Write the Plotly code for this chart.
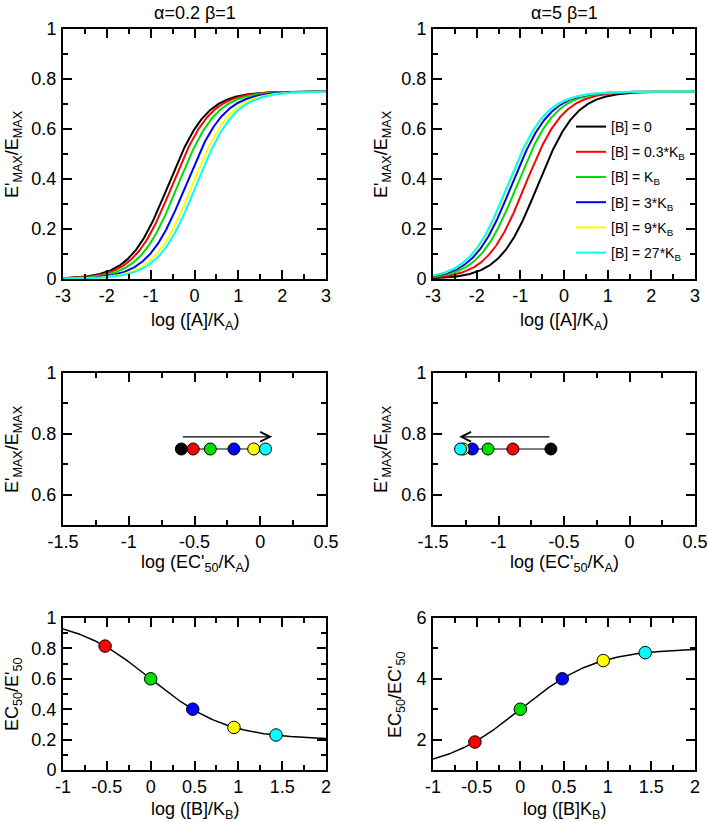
import numpy as np
import plotly.graph_objects as go

# ---------------- data ----------------
b_labels = ["[B] = 0", "[B] = 0.3*K<sub>B</sub>", "[B] = K<sub>B</sub>",
            "[B] = 3*K<sub>B</sub>", "[B] = 9*K<sub>B</sub>", "[B] = 27*K<sub>B</sub>"]
colors = ["#000000", "#ff0000", "#00dd00", "#0000ff", "#ffff00", "#00ffff"]
b_over_kb = [0, 0.3, 1, 3, 9, 27]
emax_prime = 0.75
# log(EC'50/KA) for each [B]
log_ec50_a02 = [-0.60, -0.51, -0.38, -0.20, -0.05, 0.04]
log_ec50_a5 = [-0.60, -0.89, -1.08, -1.20, -1.27, -1.29]
# EC50/EC'50 ratios at [B] = 0.3, 1, 3, 9, 27 KB
log_b_pts = [-0.52, 0.0, 0.48, 0.95, 1.43]
ratio_a02 = [0.815, 0.60, 0.40, 0.28, 0.23]
ratio_a5 = [1.92, 3.0, 4.0, 4.6, 4.86]
alphas = [0.2, 5.0]

# tick labels
ticks_top_x = [-3, -2, -1, 0, 1, 2, 3]
ticks_top_x_txt = ["-3", "-2", "-1", "0", "1", "2", "3"]
ticks_01 = [0, 0.2, 0.4, 0.6, 0.8, 1.0]
ticks_01_txt = ["0", "0.2", "0.4", "0.6", "0.8", "1"]
ticks_mid_x = [-1.5, -1, -0.5, 0, 0.5]
ticks_mid_x_txt = ["-1.5", "-1", "-0.5", "0", "0.5"]
ticks_mid_y = [0.6, 0.8, 1.0]
ticks_mid_y_txt = ["0.6", "0.8", "1"]
ticks_bot_x = [-1, -0.5, 0, 0.5, 1, 1.5, 2]
ticks_bot_x_txt = ["-1", "-0.5", "0", "0.5", "1", "1.5", "2"]
ticks_bot_y2 = [2, 4, 6]
ticks_bot_y2_txt = ["2", "4", "6"]

FONT = "Liberation Sans, Arial, Helvetica, sans-serif"
W, H = 708, 822

def px_x(v):
    return v / W

def px_y(v):
    return 1 - v / H

xl = [px_x(63), px_x(326)]
xr = [px_x(433), px_x(695)]
yt = [px_y(279), px_y(29)]
ym = [px_y(525), px_y(373)]
yb = [px_y(770), px_y(618)]

fig = go.Figure()

# top row: concentration-response curves
logA = np.linspace(-3, 3, 400)
A = 10 ** logA
for col, (ecs, xa, ya) in enumerate([(log_ec50_a02, "x", "y"), (log_ec50_a5, "x2", "y2")]):
    for i, le in enumerate(ecs):
        ec = 10 ** le
        fig.add_trace(go.Scatter(
            x=logA, y=emax_prime * A / (A + ec), mode="lines",
            line=dict(color=colors[i], width=2), name=b_labels[i],
            legendgroup=f"g{i}", showlegend=(col == 1), xaxis=xa, yaxis=ya))

# middle row: EC'50 shift
for ecs, xa, ya in [(log_ec50_a02, "x3", "y3"), (log_ec50_a5, "x4", "y4")]:
    fig.add_trace(go.Scatter(
        x=ecs, y=[emax_prime] * len(ecs), mode="lines+markers",
        line=dict(color="black", width=1.2),
        marker=dict(size=12, color=colors, line=dict(color="black", width=1)),
        showlegend=False, xaxis=xa, yaxis=ya))

# bottom row: EC50 ratio vs [B]
logB = np.linspace(-1, 2, 300)
Bc = 10 ** logB
for alpha, pts, xa, ya in [(alphas[0], ratio_a02, "x5", "y5"), (alphas[1], ratio_a5, "x6", "y6")]:
    fig.add_trace(go.Scatter(
        x=logB, y=(1 + alpha * Bc) / (1 + Bc), mode="lines",
        line=dict(color="black", width=1.5), showlegend=False, xaxis=xa, yaxis=ya))
    fig.add_trace(go.Scatter(
        x=log_b_pts, y=pts, mode="markers",
        marker=dict(size=12.5, color=colors[1:], line=dict(color="black", width=1)),
        showlegend=False, xaxis=xa, yaxis=ya))

base = dict(
    showline=True, linewidth=2, linecolor="black", mirror="ticks",
    ticks="inside", ticklen=9, tickwidth=1.5, tickcolor="black",
    showgrid=False, zeroline=False, automargin=False,
    tickfont=dict(family=FONT, size=18, color="black"),
)
xcommon = dict(base, ticklabelstandoff=-1)
ycommon = dict(base, ticklabelstandoff=1)

def minor(d):
    return dict(dtick=d, ticks="inside", ticklen=5, tickwidth=1.5, tickcolor="black", showgrid=False)

def minor_vals(v):
    return dict(tickvals=v, ticks="inside", ticklen=5, tickwidth=1.5, tickcolor="black", showgrid=False)

fig.update_layout(
    xaxis=dict(domain=xl, anchor="y", range=[-3, 3], tickvals=ticks_top_x, ticktext=ticks_top_x_txt,
               minor=minor(0.5), **xcommon),
    yaxis=dict(domain=yt, anchor="x", range=[0, 1], tickvals=ticks_01, ticktext=ticks_01_txt,
               minor=minor(0.1), **ycommon),
    xaxis2=dict(domain=xr, anchor="y2", range=[-3, 3], tickvals=ticks_top_x, ticktext=ticks_top_x_txt,
                minor=minor(0.5), **xcommon),
    yaxis2=dict(domain=yt, anchor="x2", range=[0, 1], tickvals=ticks_01, ticktext=ticks_01_txt,
                minor=minor(0.1), **ycommon),
    xaxis3=dict(domain=xl, anchor="y3", range=[-1.5, 0.5], tickvals=ticks_mid_x, ticktext=ticks_mid_x_txt,
                minor=minor(0.25), **xcommon),
    yaxis3=dict(domain=ym, anchor="x3", range=[0.5, 1], tickvals=ticks_mid_y, ticktext=ticks_mid_y_txt,
                minor=minor_vals([0.7, 0.9]), **ycommon),
    xaxis4=dict(domain=xr, anchor="y4", range=[-1.5, 0.5], tickvals=ticks_mid_x, ticktext=ticks_mid_x_txt,
                minor=minor(0.25), **xcommon),
    yaxis4=dict(domain=ym, anchor="x4", range=[0.5, 1], tickvals=ticks_mid_y, ticktext=ticks_mid_y_txt,
                minor=minor_vals([0.7, 0.9]), **ycommon),
    xaxis5=dict(domain=xl, anchor="y5", range=[-1, 2], tickvals=ticks_bot_x, ticktext=ticks_bot_x_txt,
                minor=minor(0.25), **xcommon),
    yaxis5=dict(domain=yb, anchor="x5", range=[0, 1], tickvals=ticks_01, ticktext=ticks_01_txt,
                minor=minor(0.1), **ycommon),
    xaxis6=dict(domain=xr, anchor="y6", range=[-1, 2], tickvals=ticks_bot_x, ticktext=ticks_bot_x_txt,
                minor=minor(0.25), **xcommon),
    yaxis6=dict(domain=yb, anchor="x6", range=[1, 6], tickvals=ticks_bot_y2, ticktext=ticks_bot_y2_txt,
                minor=minor_vals([1, 3, 5]), **ycommon),
    width=W, height=H, margin=dict(l=0, r=0, t=0, b=0, autoexpand=False),
    paper_bgcolor="white", plot_bgcolor="white",
    font=dict(family=FONT, size=18, color="black"),
    legend=dict(x=px_x(571), y=px_y(111), xanchor="left", yanchor="top",
                bgcolor="rgba(0,0,0,0)", font=dict(family=FONT, size=14, color="black"),
                tracegroupgap=4, traceorder="grouped"),
)

ann = []
def text(x, y, s, angle=0, size=18):
    ann.append(dict(x=px_x(x), y=px_y(y), xref="paper", yref="paper", text=s, showarrow=False,
                    textangle=angle, xanchor="center", yanchor="middle",
                    font=dict(family=FONT, size=size, color="black")))

text(195, 13, "α=0.2 β=1")
text(564, 13, "α=5 β=1")
for cx in (195, 564):
    text(cx, 321, "log ([A]/K<sub>A</sub>)")
    text(cx, 563, "log (EC'<sub>50</sub>/K<sub>A</sub>)")
text(195, 810, "log ([B]/K<sub>B</sub>)")
text(564, 810, "log ([B]K<sub>B</sub>)")
text(13, 154, "E'<sub>MAX</sub>/E<sub>MAX</sub>", angle=-90)
text(382, 154, "E'<sub>MAX</sub>/E<sub>MAX</sub>", angle=-90)
text(13, 449, "E'<sub>MAX</sub>/E<sub>MAX</sub>", angle=-90)
text(382, 449, "E'<sub>MAX</sub>/E<sub>MAX</sub>", angle=-90)
text(13, 694, "EC<sub>50</sub>/E'<sub>50</sub>", angle=-90)
text(396, 694, "EC<sub>50</sub>/EC'<sub>50</sub>", angle=-90)

# shift arrows
for ecs, xa, ya in [(log_ec50_a02, "x3", "y3"), (log_ec50_a5, "x4", "y4")]:
    start = ecs[0]
    end = ecs[-1] + (0.05 if ecs[-1] > ecs[0] else -0.01)
    ann.append(dict(x=end, y=0.79, ax=start, ay=0.79, xref=xa, yref=ya, axref=xa, ayref=ya,
                    showarrow=True, arrowhead=5, arrowsize=1.6, arrowwidth=1.2,
                    arrowcolor="black", text=""))

fig.update_layout(annotations=ann)
fig.write_html(
    "out.html",
    config={"displayModeBar": False},
    post_script="document.body.style.margin='0';document.body.style.padding='0';"
                "document.body.style.overflow='hidden';",
)
